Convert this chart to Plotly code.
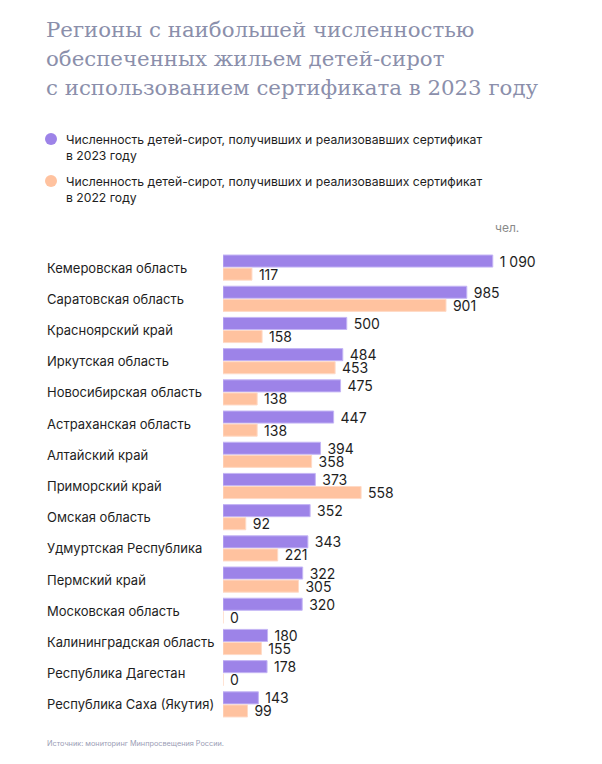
import plotly.graph_objects as go

regions = [
    "Кемеровская область", "Саратовская область", "Красноярский край",
    "Иркутская область", "Новосибирская область", "Астраханская область",
    "Алтайский край", "Приморский край", "Омская область",
    "Удмуртская Республика", "Пермский край", "Московская область",
    "Калининградская область", "Республика Дагестан", "Республика Саха (Якутия)",
]
values_2023 = [1090, 985, 500, 484, 475, 447, 394, 373, 352, 343, 322, 320, 180, 178, 143]
values_2022 = [117, 901, 158, 453, 138, 138, 358, 558, 92, 221, 305, 0, 155, 0, 99]

legend_2023 = "Численность детей-сирот, получивших и реализовавших сертификат<br>в 2023 году"
legend_2022 = "Численность детей-сирот, получивших и реализовавших сертификат<br>в 2022 году"
title_lines = [
    "Регионы с наибольшей численностью",
    "обеспеченных жильем детей-сирот",
    "с использованием сертификата в 2023 году",
]
unit_text = "чел."
source_text = "Источник: мониторинг Минпросвещения России."

OFF = 8  # page body margin
W_FIG, H_FIG = 594, 756
ML = 223 - OFF
MT = 252 - OFF
PLOT_RIGHT = 520 - OFF
PLOT_BOTTOM = 720 - OFF
MR = W_FIG - PLOT_RIGHT
MB = H_FIG - PLOT_BOTTOM
PW = W_FIG - ML - MR
PH = H_FIG - MT - MB


def px(xp):
    return (xp - OFF - ML) / PW


def py(yp):
    return (H_FIG - MB - (yp - OFF)) / PH


def fmt(v):
    return "\u00a0" + f"{v:,}".replace(",", " ")


SANS = "Inter, Roboto, sans-serif"
PURPLE = "#9d83e8"
PEACH = "#ffc29f"

fig = go.Figure()
fig.add_trace(go.Bar(
    y=regions, x=values_2023, orientation="h", name="2023",
    marker=dict(color=PURPLE, line=dict(color="#c4b5f5", width=1)),
    text=[fmt(v) for v in values_2023], textposition="outside",
    constraintext="none",
    textfont=dict(family=SANS, size=14, color="#1e1e1e"), cliponaxis=False,
    showlegend=False, hoverinfo="skip",
))
fig.add_trace(go.Bar(
    y=regions, x=values_2022, orientation="h", name="2022",
    marker=dict(color=PEACH, line=dict(color="#ffdac6", width=1)),
    text=[fmt(v) for v in values_2022], textposition="outside",
    constraintext="none",
    textfont=dict(family=SANS, size=14, color="#1e1e1e"), cliponaxis=False,
    showlegend=False, hoverinfo="skip",
))

annotations = []
for r in regions:
    annotations.append(dict(
        x=px(45), xref="paper", y=r, yref="y", text=r, showarrow=False,
        xanchor="left", yanchor="middle",
        font=dict(family=SANS, size=13, color="#1e1e1e"),
    ))

for i, line in enumerate(title_lines):
    annotations.append(dict(
        x=px(44), xref="paper", y=py(30 + 29 * i), yref="paper", text=line,
        showarrow=False, xanchor="left", yanchor="middle", align="left",
        font=dict(family="DejaVu Serif, serif", size=21.3, color="#8b8fab"),
    ))
for txt, ytop in [(legend_2023, 130), (legend_2022, 172)]:
    annotations.append(dict(
        x=px(64), xref="paper", y=py(ytop), yref="paper", text=txt,
        showarrow=False, xanchor="left", yanchor="top", align="left",
        font=dict(family=SANS, size=12.2, color="#1e1e1e"),
    ))
annotations.append(dict(
    x=px(521), xref="paper", y=py(228), yref="paper", text=unit_text,
    showarrow=False, xanchor="right", yanchor="middle",
    font=dict(family=SANS, size=12, color="#8a8a8a"),
))
annotations.append(dict(
    x=px(45), xref="paper", y=py(743), yref="paper", text=source_text,
    showarrow=False, xanchor="left", yanchor="middle",
    font=dict(family=SANS, size=7.3, color="#9a9db5"),
))

shapes = []
for color, yc in [(PURPLE, 139), (PEACH, 181)]:
    shapes.append(dict(
        type="circle", xref="paper", yref="paper",
        x0=px(45), x1=px(57), y0=py(yc + 6), y1=py(yc - 6),
        fillcolor=color, line=dict(width=0),
    ))

fig.update_layout(
    width=W_FIG, height=H_FIG,
    margin=dict(l=ML, r=MR, t=MT, b=MB),
    paper_bgcolor="white", plot_bgcolor="white",
    barmode="group", bargap=0.16, bargroupgap=0.08,
    xaxis=dict(range=[0, 1200], visible=False, fixedrange=True),
    yaxis=dict(autorange="reversed", showticklabels=False, showgrid=False,
               zeroline=False, showline=False, ticks=""),
    annotations=annotations, shapes=shapes,
    showlegend=False,
)

fig.write_html("out.html")
